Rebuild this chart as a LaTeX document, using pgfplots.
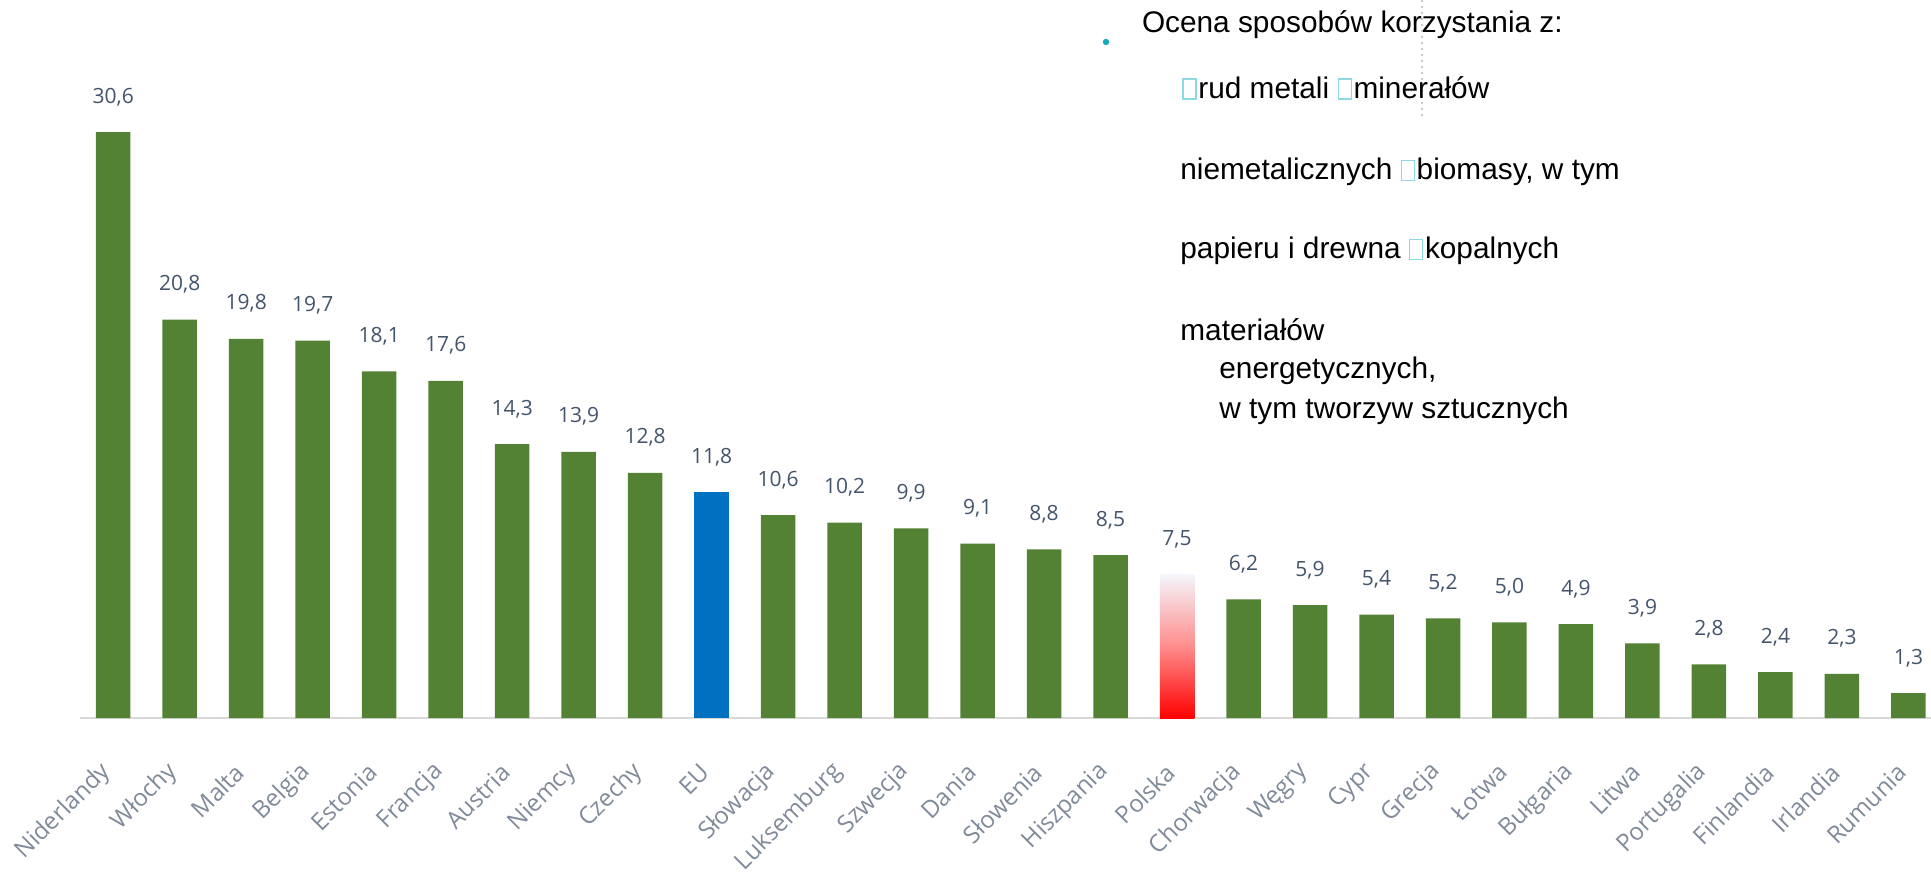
\documentclass[border=0pt]{standalone}
\usepackage{pgfplots}
\pgfplotsset{compat=1.18}
\usepackage{fontspec}
\setmainfont{Open Sans}
\newfontfamily\arialf{Liberation Sans}
\definecolor{bargreen}{HTML}{548235}
\definecolor{eublue}{HTML}{0070C0}
\definecolor{pltop}{HTML}{F3F5FB}
\definecolor{plbot}{HTML}{FF0000}
\definecolor{labc}{HTML}{44546A}
\definecolor{tickc}{HTML}{808A99}
\definecolor{axisgray}{HTML}{D9D9D9}
\definecolor{glyphc}{HTML}{8ED8E2}
\definecolor{bulletc}{HTML}{17A9BE}
\newcommand\gbox{{\setlength\fboxsep{0pt}\setlength\fboxrule{0.7pt}\fcolorbox{glyphc}{white}{\rule{0pt}{9.3pt}\hspace{5.8pt}}}\hspace{0.8pt}}
\begin{document}
\begin{tikzpicture}
\useasboundingbox (0,0) rectangle (965.5pt,-438pt);
\begin{axis}[
  at={(40pt,-359pt)}, anchor=south west,
  scale only axis, width=925.5pt, height=306.4pt,
  xmin=-0.5, xmax=27.34, ymin=0, ymax=32,
  axis y line=none, axis x line*=bottom,
  x axis line style={draw=axisgray, line width=1pt},
  xtick={0,...,27},
  xticklabels={Niderlandy,Włochy,Malta,Belgia,Estonia,Francja,Austria,Niemcy,Czechy,EU,Słowacja,Luksemburg,Szwecja,Dania,Słowenia,Hiszpania,Polska,Chorwacja,Węgry,Cypr,Grecja,Łotwa,Bułgaria,Litwa,Portugalia,Finlandia,Irlandia,Rumunia},
  major tick length=0pt,
  xticklabel style={font=\fontsize{12}{14}\selectfont, text=tickc, anchor=east, inner sep=0pt, xshift=-3pt, yshift=-25pt, rotate=45},
  clip=false,
  nodes near coords style={font=\fontsize{10.5}{12}\selectfont, text=labc, anchor=base, inner sep=0pt, yshift=14.5pt},
  /pgf/number format/.cd, use comma, fixed, fixed zerofill, precision=1, assume math mode=true
]
\addplot[ybar, bar width=17.25pt, bar shift=0pt, fill=bargreen, draw=none, nodes near coords] coordinates {
(0,30.6) (1,20.8) (2,19.8) (3,19.7) (4,18.1) (5,17.6) (6,14.3) (7,13.9) (8,12.8)
(10,10.6) (11,10.2) (12,9.9) (13,9.1) (14,8.8) (15,8.5)
(17,6.2) (18,5.9) (19,5.4) (20,5.2) (21,5.0) (22,4.9) (23,3.9) (24,2.8) (25,2.4) (26,2.3) (27,1.3)};
\addplot[ybar, bar width=17.25pt, bar shift=0pt, fill=eublue, draw=none, nodes near coords] coordinates {(9,11.8)};
\addplot[ybar, bar width=17.25pt, bar shift=0pt, draw=none, top color=pltop, bottom color=plbot, middle color=plbot!45!white, nodes near coords] coordinates {(16,7.5)};
\end{axis}
\draw[axisgray!80!gray, line width=1pt, dotted] (711pt,0pt) -- (711pt,-58.5pt);
\fill[bulletc] (553pt,-21pt) circle (1.6pt);
\begin{scope}[every node/.style={anchor=base west, inner sep=0pt, font=\arialf\fontsize{14.9}{17}\selectfont}]
\node at (570.8pt,-16.5pt) {Ocena sposobów korzystania z:};
\node at (591pt,-49.25pt) {\gbox{}rud metali \gbox{}minerałów};
\node at (590pt,-90pt) {niemetalicznych \gbox{}biomasy, w tym};
\node at (590pt,-129.3pt) {papieru i drewna \gbox{}kopalnych};
\node at (590pt,-170.5pt) {materiałów};
\node at (609.5pt,-189.5pt) {energetycznych,};
\node at (609.5pt,-209.5pt) {w tym tworzyw sztucznych};
\end{scope}
\end{tikzpicture}
\end{document}
